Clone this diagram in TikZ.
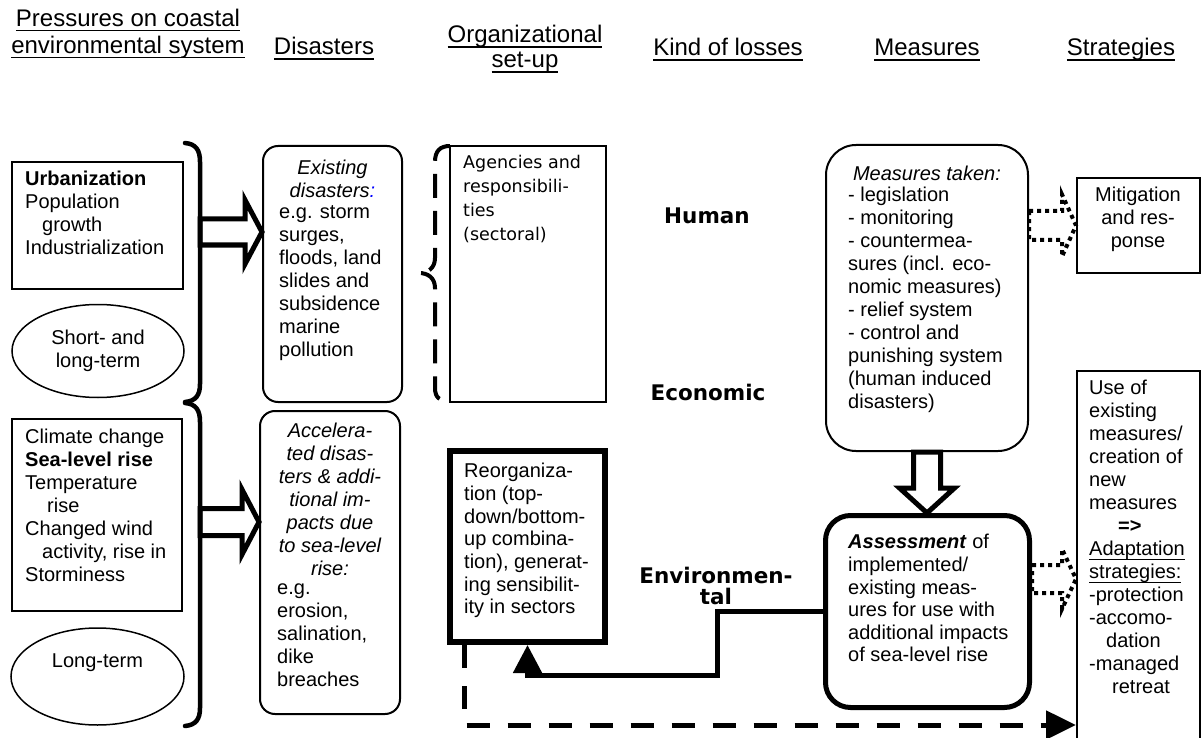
\documentclass[tikz,border=0pt]{standalone}
\usepackage{fontspec}
\setmainfont{Liberation Sans}
\newfontfamily\tahomafont{DejaVu Sans}
\usetikzlibrary{arrows.meta,shapes.geometric,fit,calc}
\newsavebox\undlbox
\newcommand\undl[1]{\sbox\undlbox{#1}\rlap{\rule[-4.8pt]{\wd\undlbox}{1.9pt}}\usebox\undlbox}

\begin{document}
\begin{tikzpicture}[x=1pt, y=-1pt,
  hdr/.style={inner sep=0pt, align=center, font=\fontsize{24}{25}\selectfont},
  hdrtwo/.style={hdr, anchor=north, execute at begin node=\strut},
  framebox/.style={draw, line width=2pt, inner sep=0pt},
  roundbox/.style={framebox, rounded corners=15pt},
  heavybox/.style={draw, line width=6pt, inner sep=0pt},
  oval/.style={draw, ellipse, line width=1.5pt, inner sep=0pt, align=center, font=\fontsize{20}{23}\selectfont},
  txt/.style={anchor=north west, inner sep=0pt, align=left, font=\fontsize{20}{23}\selectfont, execute at begin node=\strut},
  ctxt/.style={txt, anchor=north, align=center},
  loss/.style={inner sep=0pt, align=center, font=\tahomafont\bfseries\fontsize{21.5}{19}\selectfont},
  bracket/.style={line width=4.5pt, line cap=round},
  hollowarr/.style={draw, line width=5pt},
  dotarr/.style={draw, line width=4pt, dash pattern=on 4pt off 4pt},
  feedback/.style={line width=5pt, -{Triangle[length=28pt,width=28pt]}},
  dashlink/.style={line width=5pt, dash pattern=on 23pt off 18pt, -{Triangle[length=30pt,width=28pt]}}]
% block arrow pointing right: style, from, to, shaft half width, head half width, head length
\def\blockright#1#2#3#4#5#6{%
  \draw[#1] let \p1=(#2), \p2=(#3) in
    (\x1,\y1+#4) -- (\x2-#6,\y1+#4) -- (\x2-#6,\y1+#5) -- (\x2,\y1)
    -- (\x2-#6,\y1-#5) -- (\x2-#6,\y1-#4) -- (\x1,\y1-#4) -- cycle;}
\useasboundingbox (0,0) rectangle (1202,738);

% Column titles
\node[hdrtwo, font=\fontsize{24}{27}\selectfont] (hpress) at (128,9.1) {\undl{Pressures on coastal}\\\undl{environmental system}};
\node[hdr, anchor=base] (hdis) at (324,55) {\undl{Disasters}};
\node[hdrtwo] (horg) at (525,25.3) {\undl{Organizational}\\\undl{set-up}};
\node[hdr, anchor=base] (hloss) at (728,56) {\undl{Kind of losses}};
\node[hdr, anchor=base] (hmeas) at (927,56) {\undl{Measures}};
\node[hdr, anchor=base] (hstrat) at (1121,56) {\undl{Strategies}};

% Pressures
\node[framebox, fit={(12,162) (183,289)}] (urb) {};
\node[txt] (urbtxt) at (25,171) {\textbf{Urbanization}\\Population\\\hspace*{17pt}growth\\Industrialization};
\node[oval, minimum width=172pt, minimum height=93pt] (stterm) at (98,351) {Short- and\\long-term};
\node[framebox, fit={(12,419) (182,611)}] (clim) {};
\node[txt] (climtxt) at (25,429) {Climate change\\\textbf{Sea-level rise}\\Temperature\\\hspace*{22pt}rise\\Changed wind\\\hspace*{17pt}activity, rise in\\Storminess};
\node[oval, minimum width=173pt, minimum height=97pt] (ltterm) at (97.5,676.5) {};
\node[hdr, anchor=base, font=\fontsize{20}{23}\selectfont] (lttxt) at (97.5,667) {Long-term};

% Brackets
\coordinate (br1) at (200,232);
\coordinate (br2) at (200,522);
\draw[bracket] (185,143) .. controls (196,144) and (200,150) .. (200,162) -- (200,384) .. controls (200,395) and (196,401) .. (185,402);
\draw[bracket] (185,403) .. controls (196,404) and (200,410) .. (200,422) -- (200,708) .. controls (200,719) and (196,725) .. (185,726);

% Disasters
\node[roundbox, fit={(263,146) (402,402)}] (exdis) {};
\node[ctxt, font=\itshape\fontsize{20}{23}\selectfont] (exhead) at (332.5,160) {Existing\\disasters\textcolor{blue}{:}};
\node[txt] (exbody) at (279,205) {e.g. storm\\surges,\\floods, land\\slides and\\subsidence\\marine\\pollution};
\node[roundbox, fit={(260,411) (400,714)}] (accdis) {};
\node[ctxt, font=\itshape\fontsize{20}{23}\selectfont] (acchead) at (330,423) {Accelera-\\ted disas-\\ters \& addi-\\tional im-\\pacts due\\to sea-level\\rise:};
\node[txt] (accbody) at (277,584) {e.g.\\erosion,\\salination,\\dike\\breaches};
\blockright{hollowarr}{br1}{exdis.west |- br1}{13pt}{32pt}{17pt}
\blockright{hollowarr}{br2}{accdis.west |- br2}{13.5pt}{32.5pt}{17pt}

% Organizational set-up
\draw[line width=4pt, dash pattern=on 24pt off 13pt] (450,146) .. controls (440,146) and (435,151) .. (435,162) -- (435,258) .. controls (435,268) and (428,273) .. (419,273) .. controls (428,273) and (435,278) .. (435,288) -- (435,388) .. controls (435,398) and (440,401) .. (450,401);
\node[framebox, fit={(450,146) (606,402)}] (agency) {};
\node[txt, font=\tahomafont\fontsize{17.5}{24}\selectfont] (agtxt) at (463,155) {Agencies and\\responsibili-\\ties\\(sectoral)};
\node[heavybox, fit={(450,451) (605,642)}] (reorg) {};
\node[txt, font=\fontsize{20}{22.7}\selectfont] (reorgtxt) at (464,463) {Reorganiza-\\tion (top-\\down/bottom-\\up combina-\\tion), generat-\\ing sensibilit-\\ity in sectors};

% Kind of losses
\node[loss, anchor=base] (human) at (707,223) {Human};
\node[loss, anchor=base] (econ) at (708,400) {Economic};
\node[loss, anchor=north] (envir) at (716,567) {Environmen-\\[2pt]tal};

% Measures
\node[framebox, rounded corners=30pt, fit={(826,145) (1028,451)}] (meas) {};
\node[ctxt, font=\itshape\fontsize{20}{23}\selectfont] (meashead) at (927,164) {Measures taken:};
\node[txt] (measbody) at (848,187) {- legislation\\- monitoring\\- countermea-\\sures (incl. eco-\\nomic measures)\\- relief system\\- control and\\punishing system\\(human induced\\disasters)};
\node[draw, line width=5pt, rounded corners=25pt, inner sep=0pt, fit={(825.5,515.5) (1029.5,707.5)}] (assess) {};
\node[txt, font=\fontsize{20}{22.6}\selectfont] (asstxt) at (848,534.2) {\textbf{\textit{Assessment}} of\\implemented/\\existing meas-\\ures for use with\\additional impacts\\of sea-level rise};
\draw[hollowarr] let \p1=(meas.south), \p2=(assess.north) in
  (\x1-13.5pt,\y1) -- (\x1-13.5pt,\y2+25pt) -- (\x1-27.5pt,\y2+25pt) -- (\x1,\y2)
  -- (\x1+27.5pt,\y2+25pt) -- (\x1+13.5pt,\y2+25pt) -- (\x1+13.5pt,\y1) -- cycle;

% Strategies
\node[framebox, fit={(1077,178) (1200,273)}] (mitig) {};
\node[ctxt] (mitigtxt) at (1138,187) {Mitigation\\and res-\\ponse};
\node[framebox, fit={(1077,371) (1200,760)}] (strat) {};
\node[txt] (strattxt) at (1089,380) {Use of\\existing\\measures/\\creation of\\new\\measures\\\hspace*{29pt}\textbf{=>}\\\undl{Adaptation}\\\undl{strategies:}\\-protection\\-accomo-\\\hspace*{17pt}dation\\-managed\\\hspace*{23pt}retreat};
\coordinate (adapt) at (1100,579);
\blockright{dotarr}{meas.east |- mitig.west}{mitig.west}{14.5pt}{31pt}{14pt}
\blockright{dotarr}{assess.east |- adapt}{strat.west |- adapt}{14pt}{30pt}{14pt}

% Feedback and links
\coordinate (fbbend) at (717,675);
\draw[feedback] (assess.west) -| (fbbend) -| (reorg.south);
\coordinate (dashrow) at (0,725);
\draw[dashlink] ([xshift=17.5pt]reorg.south west) |- (strat.west |- dashrow);
\end{tikzpicture}
\end{document}
